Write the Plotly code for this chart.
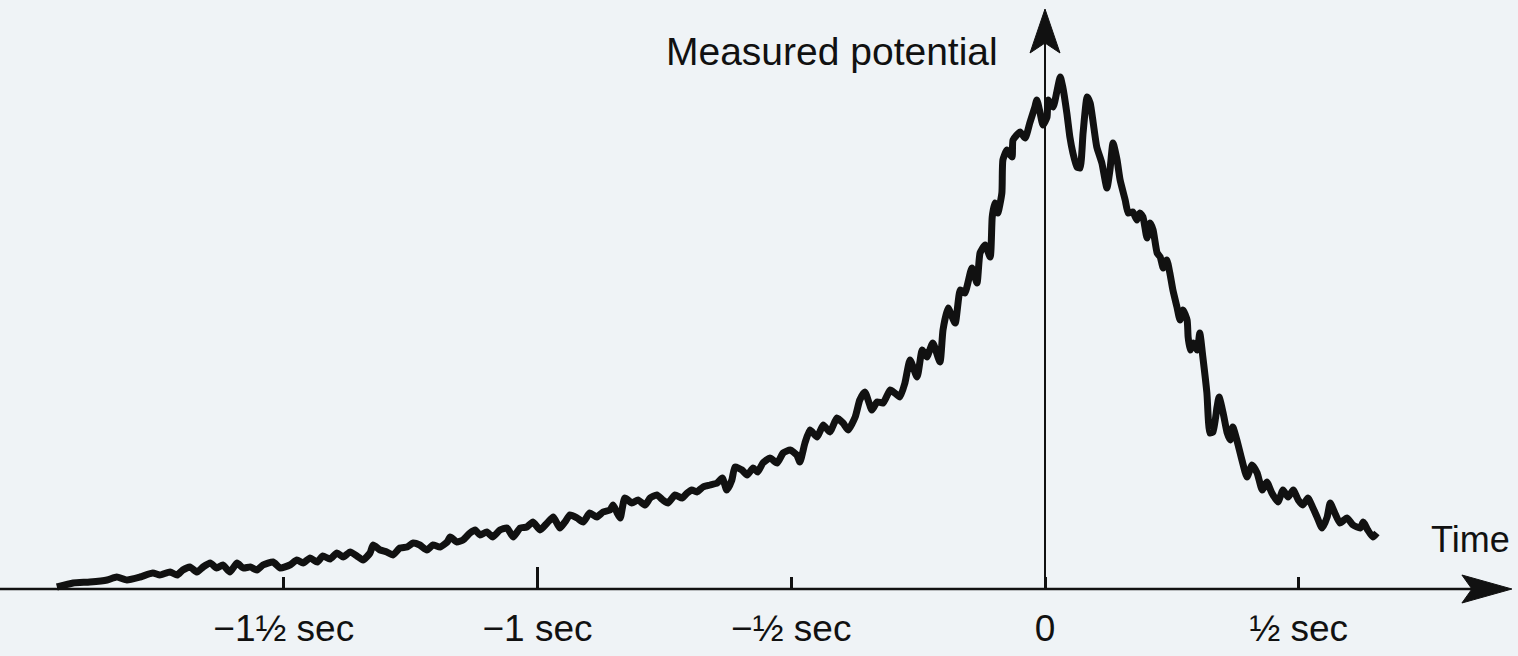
import plotly.graph_objects as go

# Readiness potential: time relative to the act (ms) and measured potential (arbitrary units)
time_ms = [
    -1947, -1915, -1882, -1848, -1829, -1809, -1783, -1758, -1744, -1724,
    -1710, -1699, -1685, -1671, -1659, -1645, -1632, -1620, -1606, -1592,
    -1580, -1566, -1553, -1541, -1521, -1507, -1488, -1474, -1462, -1448,
    -1434, -1423, -1409, -1395, -1383, -1369, -1356, -1344, -1330, -1324,
    -1310, -1297, -1285, -1271, -1257, -1245, -1232, -1218, -1206, -1192,
    -1178, -1172, -1159, -1147, -1133, -1123, -1113, -1100, -1088, -1074,
    -1060, -1048, -1034, -1021, -1009, -995, -981, -969, -956, -946,
    -936, -922, -910, -897, -883, -871, -857, -851, -843, -837,
    -828, -814, -802, -788, -778, -765, -753, -743, -729, -715,
    -705, -696, -686, -674, -660, -646, -636, -627, -617, -611,
    -597, -587, -575, -566, -556, -542, -528, -516, -502, -489,
    -483, -473, -463, -449, -437, -424, -410, -398, -388, -374,
    -365, -355, -341, -331, -319, -305, -296, -286, -276, -266,
    -252, -242, -233, -221, -207, -201, -191, -177, -167, -158,
    -144, -134, -128, -118, -108, -104, -99, -93, -85, -83,
    -75, -65, -63, -49, -39, -30, -20, -16, -10, -4,
    4, 6, 16, 24, 30, 35, 43, 49, 55, 63,
    69, 75, 83, 89, 95, 102, 112, 122, 128, 134,
    142, 148, 158, 164, 173, 181, 187, 193, 201, 207,
    213, 221, 227, 233, 240, 246, 252, 260, 266, 272,
    280, 282, 286, 292, 300, 305, 311, 319, 325, 331,
    339, 343, 351, 359, 365, 370, 378, 388, 398, 408,
    418, 428, 437, 447, 459, 469, 479, 489, 499, 508,
    518, 528, 536, 546, 556, 562, 571, 581, 595, 607,
    621, 627, 636, 646, 654,
]

potential = [
    0.4, 1.2, 1.4, 1.8, 2.4, 1.8, 2.4, 3.2, 2.8, 3.4,
    2.8, 3.8, 4.4, 3.4, 4.4, 5.2, 4.2, 4.8, 3.4, 5.2,
    4.2, 4.4, 3.8, 4.8, 5.4, 4.2, 4.8, 5.8, 5.2, 6.2,
    5.4, 6.6, 6.0, 7.2, 6.4, 7.4, 6.6, 5.8, 7.2, 8.8,
    7.8, 7.4, 6.8, 8.2, 8.4, 9.2, 8.8, 7.8, 8.8, 8.4,
    9.4, 10.4, 9.4, 9.8, 11.2, 11.8, 10.8, 11.4, 10.4, 11.8,
    12.2, 10.4, 12.2, 12.4, 13.4, 11.8, 13.2, 14.4, 12.2, 13.4,
    14.8, 14.2, 13.4, 15.2, 14.4, 15.4, 15.8, 16.8, 15.2, 14.2,
    18.2, 17.2, 17.8, 16.8, 18.2, 18.8, 17.8, 17.2, 18.8, 18.2,
    19.2, 19.8, 19.4, 20.4, 20.8, 21.2, 22.2, 19.8, 21.8, 24.4,
    23.8, 22.8, 24.2, 23.4, 25.2, 26.2, 25.2, 27.2, 27.8, 26.8,
    25.4, 29.2, 31.8, 30.4, 32.8, 31.4, 34.2, 33.2, 31.8, 34.4,
    37.8, 39.4, 35.8, 37.4, 37.2, 39.8, 39.2, 38.4, 41.2, 45.8,
    42.4, 47.8, 46.4, 49.2, 45.4, 51.8, 56.2, 53.2, 59.8, 59.2,
    64.2, 61.2, 67.2, 68.8, 66.4, 74.4, 77.2, 75.2, 79.2, 85.8,
    87.8, 86.4, 89.8, 91.4, 90.2, 93.2, 96.4, 97.8, 95.4, 92.8,
    94.4, 97.8, 96.4, 99.8, 102.4, 100.4, 95.2, 90.4, 87.2, 84.4,
    84.2, 91.2, 98.4, 97.2, 93.2, 88.4, 85.2, 80.2, 83.8, 89.2,
    85.8, 81.8, 77.8, 75.2, 75.4, 73.8, 75.2, 74.4, 70.2, 73.2,
    71.8, 67.2, 66.4, 64.2, 65.8, 63.2, 59.8, 56.4, 53.8, 55.8,
    53.8, 50.4, 47.8, 49.2, 47.8, 51.2, 46.4, 39.2, 31.2, 31.4,
    36.4, 38.4, 35.2, 31.2, 29.8, 32.4, 29.8, 25.8, 22.4, 24.8,
    23.2, 19.8, 21.4, 19.2, 17.4, 19.8, 18.4, 19.8, 17.8, 16.8,
    18.2, 16.2, 14.4, 12.2, 14.4, 17.2, 15.2, 13.2, 14.2, 12.8,
    12.2, 13.4, 11.8, 10.4, 11.2,
]

tick_vals = [-1500, -1000, -500, 0, 500]
tick_text = ["\u22121\u00bd sec", "\u22121 sec", "\u2212\u00bd sec", "0", "\u00bd sec"]
long_tick_vals = [-1000]

x_label = "Time"
y_label = "Measured potential"

W, H = 1518, 656
x_range = [-2059.1, 932.0]
y_range = [-13.4, 117.8]
axis_pos = (0 - y_range[0]) / (y_range[1] - y_range[0])

INK = "#111111"
BG = "#eff3f6"
FONT = "Liberation Sans, Arial, sans-serif"

fig = go.Figure()
fig.add_trace(go.Scatter(
    x=time_ms, y=potential, mode="lines",
    line=dict(color=INK, width=7, shape="spline", smoothing=0.5),
    hoverinfo="skip", showlegend=False,
))
fig.add_trace(go.Scatter(x=[], y=[], xaxis="x2", yaxis="y", showlegend=False, hoverinfo="skip"))

common_axis = dict(
    range=x_range, anchor="free", position=axis_pos, showgrid=False,
    zeroline=False, showline=False, tickmode="array", ticks="inside",
    tickwidth=2.5, tickcolor=INK, fixedrange=True,
)

fig.update_layout(
    width=W, height=H, autosize=False,
    margin=dict(l=0, r=0, t=0, b=0, pad=0),
    paper_bgcolor=BG, plot_bgcolor=BG,
    xaxis=dict(
        **common_axis, tickvals=tick_vals, ticktext=tick_text, ticklen=12,
        tickfont=dict(family=FONT, size=37, color=INK), ticklabelstandoff=14,
    ),
    xaxis2=dict(
        **common_axis, overlaying="x", tickvals=long_tick_vals, ticklen=22,
        showticklabels=False,
    ),
    yaxis=dict(range=y_range, visible=False, fixedrange=True),
    showlegend=False,
)

# axis lines
fig.add_shape(type="line", xref="x", yref="y", x0=x_range[0], x1=900, y0=0, y1=0,
              line=dict(color=INK, width=2.5))
fig.add_shape(type="line", xref="x", yref="y", x0=0, x1=0, y0=0, y1=110,
              line=dict(color=INK, width=2))
# arrowheads
fig.add_shape(type="path", xref="x", yref="y", xsizemode="pixel", ysizemode="pixel",
              xanchor=920, yanchor=0, path="M0,0 L-50,14 L-40,0 L-50,-14 Z",
              fillcolor=INK, line=dict(color=INK, width=1))
fig.add_shape(type="path", xref="x", yref="y", xsizemode="pixel", ysizemode="pixel",
              xanchor=0, yanchor=116, path="M0,0 L-15,-44 L0,-34 L15,-44 Z",
              fillcolor=INK, line=dict(color=INK, width=1))

fig.add_annotation(text=y_label, xref="x", yref="y", x=0, y=107.6, xanchor="right",
                   yanchor="middle", xshift=-45, showarrow=False,
                   font=dict(family=FONT, size=39, color=INK))
fig.add_annotation(text=x_label, xref="x", yref="y", x=920, y=10, xanchor="right",
                   yanchor="middle", showarrow=False,
                   font=dict(family=FONT, size=36, color=INK))

fig.write_html(
    "out.html",
    config={"displayModeBar": False},
    post_script="document.body.style.margin='0';document.body.style.background='%s';" % BG,
)
